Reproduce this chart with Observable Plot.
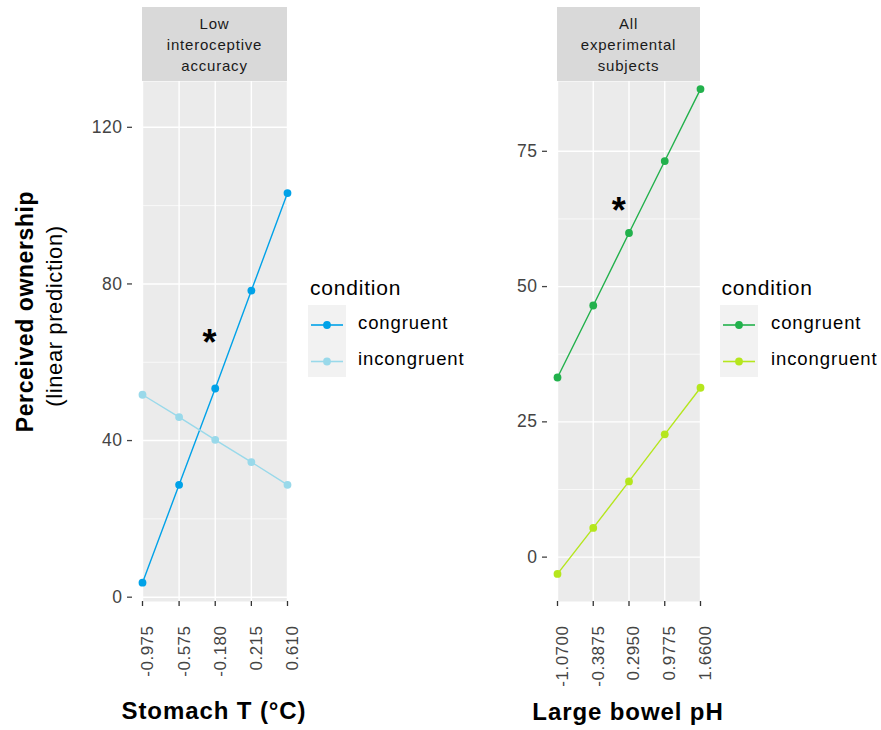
<!DOCTYPE html>
<html><head><meta charset="utf-8">
<script src="https://cdn.jsdelivr.net/npm/d3@7"></script>
<script src="https://cdn.jsdelivr.net/npm/@observablehq/plot@0.6"></script>
<style>
body{margin:0;background:#fff;}
#root{position:relative;width:881px;height:730px;overflow:hidden;font-family:"Liberation Sans",Arial,sans-serif;color:#000;}
.abs{position:absolute;white-space:nowrap;line-height:1;}
.strip{position:absolute;background:#d9d9d9;color:#1a1a1a;font-size:15px;line-height:21px;text-align:center;display:flex;flex-direction:column;align-items:center;justify-content:center;letter-spacing:0.8px;}
.plot{position:absolute;top:0;}
.plot text{letter-spacing:0.5px;}
</style></head><body><div id="root"></div>
<script>
// ---- data ----
const conditions = ["congruent", "incongruent"];
const stomachT = [-0.975, -0.575, -0.180, 0.215, 0.610];
const stomachLabels = ["-0.975", "-0.575", "-0.180", "0.215", "0.610"];
const stomachCongruent = [3.7, 28.7, 53.3, 78.3, 103.2];
const stomachIncongruent = [51.7, 46.0, 40.2, 34.5, 28.7];
const bowelPH = [-1.07, -0.3875, 0.295, 0.9775, 1.66];
const bowelLabels = ["-1.0700", "-0.3875", "0.2950", "0.9775", "1.6600"];
const bowelCongruent = [33.2, 46.5, 59.9, 73.2, 86.5];
const bowelIncongruent = [-3.1, 5.4, 14.0, 22.7, 31.3];
const leftYTicks = [0, 40, 80, 120];
const leftYMinor = [20, 60, 100];
const rightYTicks = [0, 25, 50, 75];
const rightYMinor = [12.5, 37.5, 62.5];
const leftStar = {x: -0.24, y: 64.8};
const rightStar = {x: 0.105, y: 63.8};
const leftColors = ["#00a2e8", "#99d9ea"];
const rightColors = ["#22b14c", "#b5e61d"];
const leftStrip = ["Low", "interoceptive", "accuracy"];
const rightStrip = ["All", "experimental", "subjects"];

const root = document.getElementById("root");
const FONT = '"Liberation Sans", Arial, sans-serif';

function panel(o) {
  const data = o.xs.flatMap((x, i) => [
    {x, y: o.cong[i], c: conditions[0]},
    {x, y: o.incong[i], c: conditions[1]}
  ]);
  const p = Plot.plot({
    width: o.width, height: 730,
    marginLeft: o.x0 - o.left, marginRight: o.left + o.width - o.x1,
    marginTop: 81, marginBottom: 129,
    x: {domain: [o.xs[0], o.xs[o.xs.length - 1]]},
    y: {domain: o.yDomain},
    color: {domain: conditions, range: o.colors},
    style: {fontFamily: FONT, background: "transparent", overflow: "visible"},
    marks: [
      Plot.frame({fill: "#ebebeb", stroke: null}),
      Plot.ruleY(o.yMinor, {stroke: "#fff", strokeWidth: 0.7}),
      Plot.ruleY(o.yTicks, {stroke: "#fff", strokeWidth: 1.4}),
      Plot.ruleX(o.xs, {stroke: "#fff", strokeWidth: 1.4}),
      Plot.line(data, {x: "x", y: "y", z: "c", stroke: "c", strokeWidth: 1.4}),
      Plot.dot(data, {x: "x", y: "y", fill: "c", r: 3.9}),
      Plot.text([o.star], {x: "x", y: "y", text: () => "*", fontSize: 36, fontWeight: "bold", fill: "#000"}),
      Plot.axisY(o.yTicks, {tickSize: 5, dx: -10, tickPadding: 5, fontSize: 17.5, color: "#444", label: null, strokeWidth: 1.3}),
      Plot.axisX(o.xs, {tickSize: 5, tickFormat: () => "", color: "#333", label: null, strokeWidth: 1.3}),
      Plot.axisX(o.xs, {tickFormat: d => o.xLabels[o.xs.indexOf(d)], tickRotate: -90, tickSize: 0, tickPadding: 24, dx: 5, fontSize: 17, color: "#444", label: null})
    ]
  });
  p.classList.add("plot");
  p.style.left = o.left + "px";
  root.appendChild(p);

  // strip
  const s = document.createElement("div");
  s.className = "strip";
  s.style.left = o.x0 + "px"; s.style.top = "7px";
  s.style.width = (o.x1 - o.x0) + "px"; s.style.height = "74px";
  s.innerHTML = o.strip.map(t => `<span>${t}</span>`).join("");
  root.appendChild(s);

  // x title
  const t = document.createElement("div");
  t.className = "abs";
  t.style.cssText += `left:${o.titleX - 150}px;width:300px;text-align:center;top:${o.titleTop}px;font-size:24px;font-weight:bold;letter-spacing:0.9px;`;
  t.textContent = o.title;
  root.appendChild(t);

  // legend
  const L = o.legend;
  const lt = document.createElement("div");
  lt.className = "abs";
  lt.style.cssText += `left:${L.x}px;top:277px;font-size:21px;letter-spacing:0.8px;`;
  lt.textContent = "condition";
  root.appendChild(lt);
  const ns = "http://www.w3.org/2000/svg";
  const svg = document.createElementNS(ns, "svg");
  svg.setAttribute("width", 40); svg.setAttribute("height", 74);
  svg.style.cssText = `position:absolute;left:${L.boxX}px;top:305px;`;
  const bg = document.createElementNS(ns, "rect");
  bg.setAttribute("width", 38); bg.setAttribute("height", 72); bg.setAttribute("fill", "#f2f2f2");
  svg.appendChild(bg);
  [20, 56.5].forEach((yy, i) => {
    const ln = document.createElementNS(ns, "line");
    ln.setAttribute("x1", 3); ln.setAttribute("x2", 35); ln.setAttribute("y1", yy); ln.setAttribute("y2", yy);
    ln.setAttribute("stroke", o.colors[i]); ln.setAttribute("stroke-width", 1.6);
    svg.appendChild(ln);
    const c = document.createElementNS(ns, "circle");
    c.setAttribute("cx", 19); c.setAttribute("cy", yy); c.setAttribute("r", 3.9); c.setAttribute("fill", o.colors[i]);
    svg.appendChild(c);
    const lab = document.createElement("div");
    lab.className = "abs";
    lab.style.cssText += `left:${L.labX}px;top:${[313.5, 350.3][i]}px;font-size:18.5px;letter-spacing:0.9px;`;
    lab.textContent = conditions[i];
    root.appendChild(lab);
  });
  root.appendChild(svg);
}

panel({left: 0, width: 300, x0: 142, x1: 287, xs: stomachT, xLabels: stomachLabels,
  cong: stomachCongruent, incong: stomachIncongruent, yDomain: [-1.1, 131.7],
  yTicks: leftYTicks, yMinor: leftYMinor, colors: leftColors, star: leftStar,
  strip: leftStrip, title: "Stomach T (°C)", titleX: 214, titleTop: 698.5,
  legend: {x: 310, boxX: 308, labX: 358}});

panel({left: 480, width: 230, x0: 557, x1: 700, xs: bowelPH, xLabels: bowelLabels,
  cong: bowelCongruent, incong: bowelIncongruent, yDomain: [-8.2, 87.9],
  yTicks: rightYTicks, yMinor: rightYMinor, colors: rightColors, star: rightStar,
  strip: rightStrip, title: "Large bowel pH", titleX: 628, titleTop: 700,
  legend: {x: 721.5, boxX: 720, labX: 771}});

// y title
function yTitle(text, cx, cy, size, weight) {
  const d = document.createElement("div");
  d.className = "abs";
  d.style.cssText += `left:${cx - 200}px;top:${cy - size / 2}px;width:400px;height:${size}px;text-align:center;font-size:${size}px;font-weight:${weight};letter-spacing:0.6px;transform:rotate(-90deg);transform-origin:50% 50%;`;
  d.textContent = text;
  root.appendChild(d);
}
yTitle("Perceived ownership", 25, 311, 23, "bold");
yTitle("(linear prediction)", 55, 316, 22, "normal");
</script></body></html>
